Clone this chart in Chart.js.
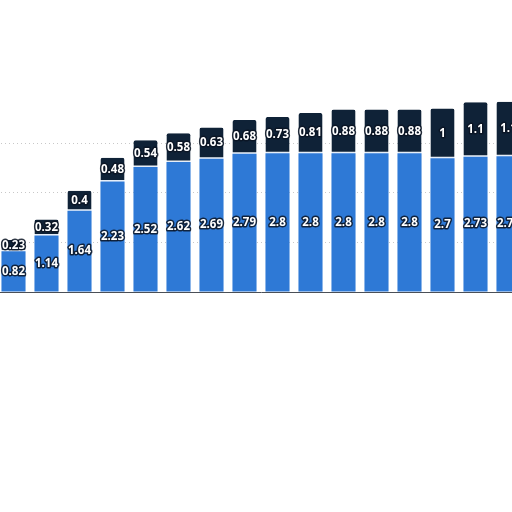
<!DOCTYPE html>
<html>
<head>
<meta charset="utf-8">
<script src="https://cdn.jsdelivr.net/npm/chart.js@4.4.1/dist/chart.umd.min.js"></script>
<style>
  html, body { margin: 0; padding: 0; background: #fff; overflow: hidden; }
  #wrap { position: absolute; left: -3.5px; top: 0; width: 528px; height: 512px; }
</style>
</head>
<body>
<div id="wrap"><canvas id="chart"></canvas></div>
<script>
const categories = ['1', '2', '3', '4', '5', '6', '7', '8', '9', '10', '11', '12', '13', '14', '15', '16'];
const baseValues = [0.82, 1.14, 1.64, 2.23, 2.52, 2.62, 2.69, 2.79, 2.8, 2.8, 2.8, 2.8, 2.8, 2.7, 2.73, 2.74];
const topValues = [0.23, 0.32, 0.4, 0.48, 0.54, 0.58, 0.63, 0.68, 0.73, 0.81, 0.88, 0.88, 0.88, 1, 1.1, 1.1];

// draws the value in the middle of each segment, white with a dark outline
const barLabels = {
  id: 'barLabels',
  afterDatasetsDraw(chart) {
    const ctx = chart.ctx;
    ctx.save();
    ctx.font = 'bold 11.5px "Open Sans", Arial, sans-serif';
    ctx.textAlign = 'center';
    ctx.textBaseline = 'middle';
    ctx.lineJoin = 'round';
    chart.data.datasets.forEach((ds, i) => {
      chart.getDatasetMeta(i).data.forEach((bar, j) => {
        const { x, y, base } = bar.getProps(['x', 'y', 'base'], true);
        const cy = (y + base) / 2;
        const txt = String(ds.data[j]);
        ctx.lineWidth = 3;
        ctx.strokeStyle = 'rgba(10,20,35,0.85)';
        ctx.strokeText(txt, x, cy);
        ctx.fillStyle = '#fff';
        ctx.fillText(txt, x, cy);
      });
    });
    ctx.restore();
  }
};

new Chart(document.getElementById('chart'), {
  type: 'bar',
  data: {
    labels: categories,
    datasets: [{
      data: baseValues,
      backgroundColor: '#2e79d6',
      borderWidth: 0
    }, {
      data: topValues,
      backgroundColor: '#0f2237',
      borderColor: '#e6eef8',
      borderWidth: { top: 0, left: 0, right: 0, bottom: 1.5 },
      borderSkipped: false,
      borderRadius: { topLeft: 2, topRight: 2 }
    }]
  },
  options: {
    responsive: true,
    maintainAspectRatio: false,
    animation: false,
    devicePixelRatio: 1,
    layout: { padding: { top: 0, bottom: 220, left: 0, right: 0 } },
    datasets: { bar: { categoryPercentage: 1, barPercentage: 0.73 } },
    plugins: { legend: { display: false }, tooltip: { enabled: false } },
    scales: {
      x: {
        stacked: true,
        ticks: { display: false },
        grid: { display: false, drawTicks: false },
        border: { display: true, color: '#4a4f57', width: 1 }
      },
      y: {
        stacked: true,
        min: 0,
        max: 5.89,
        ticks: { display: false, stepSize: 1 },
        grid: {
          drawTicks: false,
          color: (c) => (c.tick && c.tick.value >= 1 && c.tick.value <= 3) ? '#c8c8c8' : 'rgba(0,0,0,0)'
        },
        border: { display: false, dash: [1, 3] }
      }
    }
  },
  plugins: [barLabels]
});
</script>
</body>
</html>
